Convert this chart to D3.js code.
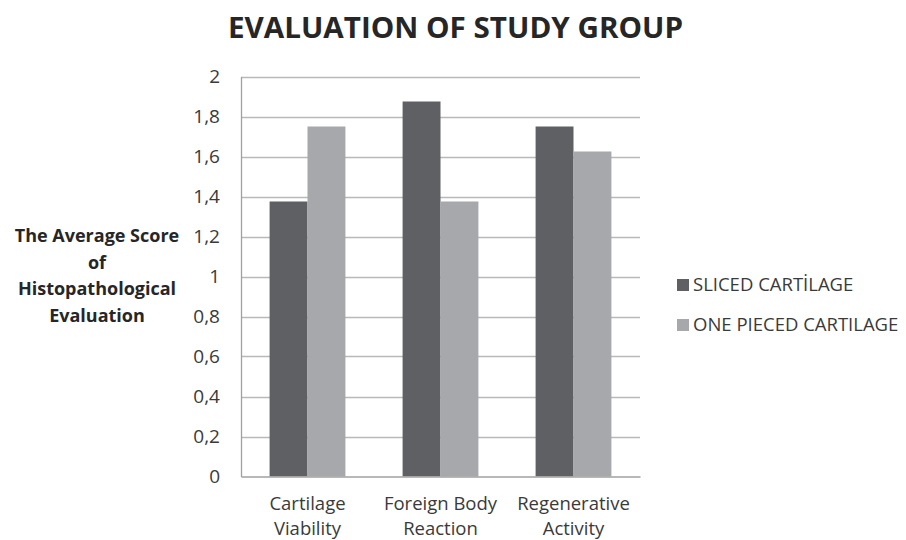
<!DOCTYPE html>
<html><head><meta charset="utf-8">
<script src="https://cdn.jsdelivr.net/npm/d3@7"></script>
<style>body{margin:0;background:#fff;}svg{display:block;}</style>
</head><body>
<svg id="c" width="906" height="540"></svg>
<script>
const categories = [["Cartilage","Viability"],["Foreign Body","Reaction"],["Regenerative","Activity"]];
const seriesNames = ["SLICED CARTİLAGE","ONE PIECED CARTILAGE"];
const sliced = [1.375, 1.875, 1.75];
const onePieced = [1.75, 1.375, 1.625];
const yTicks = [0,0.2,0.4,0.6,0.8,1,1.2,1.4,1.6,1.8,2];
const yTickLabels = ["0","0,2","0,4","0,6","0,8","1","1,2","1,4","1,6","1,8","2"];
const colors = ["#5f6064","#a7a8ab"];
const font = "'Open Sans', Lato, sans-serif";

const svg = d3.select("#c");
const L = 241, R = 640, T = 76.5, B = 476.5;
const x = d3.scaleBand().domain(d3.range(categories.length)).range([L,R]).paddingInner(0.43).paddingOuter(0.215);
const y = d3.scaleLinear().domain([0,2]).range([B,T]);
const xs = d3.scaleBand().domain([0,1]).range([0,x.bandwidth()]);

svg.append("text").attr("x",455.5).attr("y",38).attr("text-anchor","middle")
  .attr("font-family",font).attr("font-weight","bold").attr("font-size",28).attr("fill","#262626")
  .attr("textLength",455).attr("lengthAdjust","spacingAndGlyphs")
  .text("EVALUATION OF STUDY GROUP");

// gridlines
svg.append("g").selectAll("line").data(yTicks.slice(1)).join("line")
  .attr("x1",L).attr("x2",R).attr("y1",d=>Math.round(y(d))+0.5).attr("y2",d=>Math.round(y(d))+0.5)
  .attr("stroke","#b9b9b9").attr("stroke-width",1.3);

// y axis
const ya = d3.axisLeft(y).tickValues(yTicks).tickFormat((d,i)=>yTickLabels[i]).tickSize(0).tickPadding(21);
const yg = svg.append("g").attr("transform",`translate(${L},0)`).call(ya);
yg.select(".domain").attr("stroke","#a0a0a0").attr("stroke-width",1.3);
yg.selectAll("text").attr("font-family",font).attr("font-size",19).attr("fill","#3a3a3a");

// bars
const data = [sliced, onePieced];
data.forEach((vals,s)=>{
  svg.append("g").selectAll("rect").data(vals).join("rect")
    .attr("x",(d,i)=>x(i)+xs(s)).attr("width",xs.bandwidth())
    .attr("y",d=>y(d)).attr("height",d=>B-y(d)).attr("fill",colors[s]);
});

// x axis
const xa = d3.axisBottom(x).tickSize(0).tickFormat("").tickPadding(0);
const xg = svg.append("g").attr("transform",`translate(0,${B})`).call(xa);
xg.select(".domain").attr("stroke","#a0a0a0").attr("stroke-width",1.3);
categories.forEach((c,i)=>{
  const t = svg.append("text").attr("x",x(i)+x.bandwidth()/2).attr("y",510).attr("text-anchor","middle")
    .attr("font-family",font).attr("font-size",18.5).attr("fill","#3a3a3a");
  c.forEach((ln,j)=>t.append("tspan").attr("x",x(i)+x.bandwidth()/2).attr("dy",j?25:0).text(ln));
});

// y label
const yl = ["The Average Score","of","Histopathological","Evaluation"];
const ylt = svg.append("text").attr("text-anchor","middle").attr("font-family",font)
  .attr("font-weight","bold").attr("font-size",18).attr("fill","#262626");
yl.forEach((ln,j)=>ylt.append("tspan").attr("x",97).attr("y",242+j*26.7).text(ln));

// legend
seriesNames.forEach((n,s)=>{
  const yy = 291 + s*40;
  svg.append("rect").attr("x",677).attr("y",yy-12).attr("width",12).attr("height",12).attr("fill",colors[s]);
  svg.append("text").attr("x",693).attr("y",yy).attr("font-family",font).attr("font-size",18.5)
    .attr("fill","#3a3a3a").text(n);
});
</script>
</body></html>
